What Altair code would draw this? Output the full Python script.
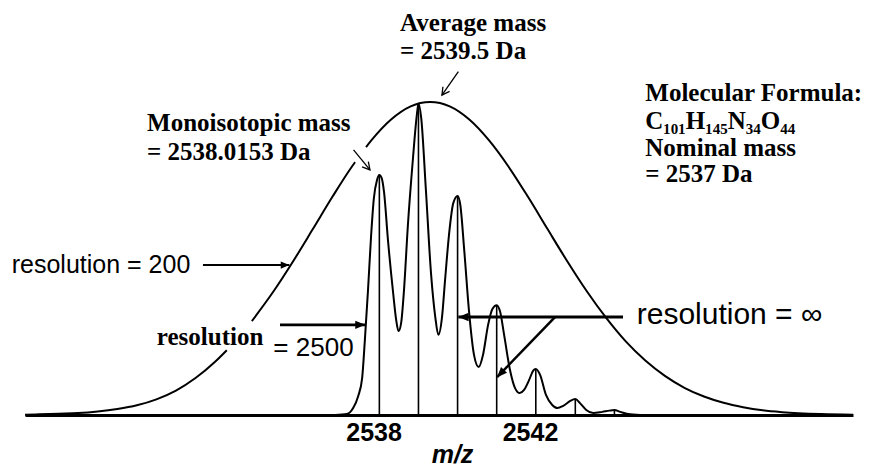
import altair as alt
import pandas as pd

# ---- data (m/z, relative intensity %) ----
# resolution = 200 envelope, drawn in three visible pieces
env_mz = [2528.96, 2529.32, 2529.82, 2530.32, 2530.82, 2531.32, 2531.82, 2532.32, 2532.82, 2533.32, 2533.82, 2534.12,
          2534.76, 2535.32, 2535.82, 2536.32, 2536.82, 2537.32, 2537.40,
          2537.68, 2537.82, 2538.32, 2538.82, 2539.32, 2539.82, 2540.32, 2540.82, 2541.32, 2541.82, 2542.32,
          2542.82, 2543.32, 2543.82, 2544.32, 2544.82, 2545.32, 2545.82, 2546.32, 2546.82, 2547.32, 2547.82,
          2548.32, 2549.32, 2550.13]
env_int = [0.1, 0.2, 0.4, 0.6, 1.1, 1.9, 3.1, 5.0, 7.8, 11.8, 17.0, 20.7,
           30.0, 39.6, 49.2, 59.4, 69.7, 79.4, 80.8,
           85.6, 87.8, 94.4, 98.6, 100.0, 98.6, 94.4, 87.8, 79.4, 69.7, 59.4,
           49.2, 39.6, 31.0, 23.5, 17.4, 12.5, 8.7, 5.9, 3.9, 2.5, 1.5,
           0.9, 0.3, 0.1]
env_piece = ["a"] * 12 + ["b"] * 7 + ["c"] * 25

# resolution = 2500 profile
prof_mz = [2536.89, 2537.19, 2537.35, 2537.48, 2537.58, 2537.65, 2537.73, 2537.81, 2537.88, 2537.96,
           2538.02, 2538.08, 2538.14, 2538.24, 2538.37, 2538.45, 2538.51, 2538.58, 2538.65, 2538.75,
           2538.88, 2538.97, 2539.02, 2539.09, 2539.21, 2539.34, 2539.45, 2539.53, 2539.62, 2539.70,
           2539.80, 2539.91, 2540.02, 2540.09, 2540.19, 2540.31, 2540.44, 2540.56, 2540.67, 2540.80,
           2540.91, 2541.02, 2541.11, 2541.21, 2541.36, 2541.49, 2541.61, 2541.72, 2541.85, 2541.95,
           2542.02, 2542.13, 2542.28, 2542.44, 2542.57, 2542.72, 2542.90, 2543.03, 2543.15, 2543.31,
           2543.49, 2543.72, 2543.90, 2544.03, 2544.18, 2544.38, 2544.69]
prof_int = [0, 0.3, 2.2, 6.1, 11.8, 24.0, 39.9, 57.5, 69.3, 75.1,
            76.7, 75.7, 71.2, 55.9, 39.3, 30.4, 26.8, 29.7, 39.9, 60.7,
            82.1, 94.9, 99.5, 94.9, 71.9, 45.4, 31.3, 25.6, 31.0, 43.1,
            57.5, 67.7, 70.0, 67.1, 52.7, 33.5, 19.2, 15.3, 19.2, 28.8,
            33.9, 35.1, 32.9, 25.6, 14.4, 8.6, 7.0, 8.0, 11.2, 14.1,
            14.7, 12.8, 6.4, 3.2, 2.2, 2.9, 4.5, 5.1, 3.8, 1.6,
            0.6, 1.0, 1.4, 1.6, 1.0, 0.3, 0]

# resolution = infinity sticks
stick_mz = [2538.02, 2539.02, 2540.02, 2541.02, 2542.02, 2543.03, 2544.03]
stick_int = [76.7, 99.5, 70.0, 35.1, 14.7, 5.1, 1.6]

tick_values = [2538, 2542]

# ---- annotations (positions in m/z, intensity) ----
serif_text = ["Average mass", "= 2539.5 Da", "Monoisotopic mass", "= 2538.0153 Da",
              "Molecular Formula:", "C\u2081\u2080\u2081H\u2081\u2084\u2085N\u2083\u2084O\u2084\u2084",
              "Nominal mass", "= 2537 Da", "resolution"]
serif_mz = [2538.55, 2538.55, 2532.08, 2532.08, 2544.82, 2544.82, 2544.82, 2544.82, 2532.33]
serif_I = [122.7, 113.7, 90.7, 81.6, 100.3, 91.4, 82.7, 74.4, 22.4]

sans_text = ["resolution = 200", "= 2500", "resolution = \u221e"]
sans_mz = [2528.62, 2535.31, 2544.60]
sans_I = [45.4, 18.8, 29.1]
sans_size = [25, 26, 30]

arrow_x1 = [2540.04, 2537.36, 2533.51, 2535.48, 2544.25, 2542.51]
arrow_I1 = [109.7, 84.7, 47.9, 28.8, 31.3, 31.3]
arrow_x2 = [2539.62, 2537.78, 2535.72, 2537.66, 2540.04, 2541.03]
arrow_I2 = [102.2, 78.3, 47.9, 28.8, 31.3, 12.1]
arrow_w = [1.3, 1.3, 2.0, 2.8, 3.0, 2.5]
arrow_angle = [215.5, 140, 90, 90, 270, 224]
arrow_head = ["open", "open", "filled", "filled", "filled", "filled"]
arrow_hsize = [220, 220, 300, 400, 420, 400]

# ---- tables ----
env_df = pd.DataFrame({"mz": env_mz, "I": env_int, "piece": env_piece})
prof_df = pd.DataFrame({"mz": prof_mz, "I": prof_int})
stick_df = pd.DataFrame({"mz": stick_mz, "I": stick_int, "I0": [0] * len(stick_mz)})
serif_df = pd.DataFrame({"mz": serif_mz, "I": serif_I, "t": serif_text})
sans_df = pd.DataFrame({"mz": sans_mz, "I": sans_I, "t": sans_text, "s": sans_size})
arrow_df = pd.DataFrame({"mz": arrow_x1, "I": arrow_I1, "mz2": arrow_x2, "I2": arrow_I2,
                         "w": arrow_w, "ang": arrow_angle, "head": arrow_head, "hs": arrow_hsize})

xs = alt.Scale(domain=[2528.96, 2550.13], nice=False, zero=False)
ys = alt.Scale(domain=[0, 100], nice=False, zero=False)

xaxis = alt.Axis(values=tick_values, format="d", ticks=False, tickSize=0, grid=False,
                 domainColor="black", domainWidth=3,
                 labelFont="Liberation Sans", labelFontSize=25, labelFontWeight="bold",
                 labelColor="black", labelPadding=5, labelOffset=-5,
                 title="m/z", titleFont="Liberation Sans", titleFontSize=25,
                 titleFontStyle="italic", titleFontWeight="bold", titleColor="black",
                 titleX=427, titleY=47, titleBaseline="alphabetic")


def X(field="mz:Q"):
    return alt.X(field, scale=xs, axis=xaxis, title="m/z")


def Y(field="I:Q"):
    return alt.Y(field, scale=ys, axis=None)


envelope = alt.Chart(env_df).mark_line(color="black", strokeWidth=2, interpolate="monotone").encode(
    x=X(), y=Y(), detail="piece:N")

profile = alt.Chart(prof_df).mark_line(color="black", strokeWidth=2, interpolate="monotone").encode(
    x=X(), y=Y())

sticks = alt.Chart(stick_df).mark_rule(color="black", strokeWidth=1.6).encode(
    x=X(), y=Y(), y2="I0:Q")

arrow_lines = alt.Chart(arrow_df).mark_rule(color="black").encode(
    x=X(), y=Y(), x2="mz2:Q", y2="I2:Q", strokeWidth=alt.StrokeWidth("w:Q", scale=None))

heads_filled = alt.Chart(arrow_df).transform_filter(alt.datum.head == "filled").mark_point(
    shape="M 0 0 L 0.42 1 L -0.42 1 Z", filled=True, color="black", opacity=1, strokeWidth=0).encode(
    x=X("mz2:Q"), y=Y("I2:Q"),
    angle=alt.Angle("ang:Q", scale=None), size=alt.Size("hs:Q", scale=None))

heads_open = alt.Chart(arrow_df).transform_filter(alt.datum.head == "open").mark_point(
    shape="M -0.55 1 L 0 0 L 0.55 1", filled=False, color="black", opacity=1, strokeWidth=1.3).encode(
    x=X("mz2:Q"), y=Y("I2:Q"),
    angle=alt.Angle("ang:Q", scale=None), size=alt.Size("hs:Q", scale=None))

serif_txt = alt.Chart(serif_df).mark_text(
    font="Liberation Serif", fontWeight="bold", fontSize=25, align="left", baseline="alphabetic",
    color="black").encode(x=X(), y=Y(), text="t:N")

sans_txt = alt.Chart(sans_df).mark_text(
    font="Liberation Sans", fontWeight="normal", align="left", baseline="alphabetic", color="black").encode(
    x=X(), y=Y(), text="t:N", size=alt.Size("s:Q", scale=None))

chart = alt.layer(envelope, profile, sticks, arrow_lines, heads_filled, heads_open,
                  serif_txt, sans_txt).properties(
    width=828, height=313,
    padding={"left": 17, "top": 94, "right": 13, "bottom": 52},
    autosize=alt.AutoSizeParams(type="none"),
    background="white",
).configure_view(strokeWidth=0)

chart.save("out.html", embed_options={"renderer": "svg", "actions": False})
